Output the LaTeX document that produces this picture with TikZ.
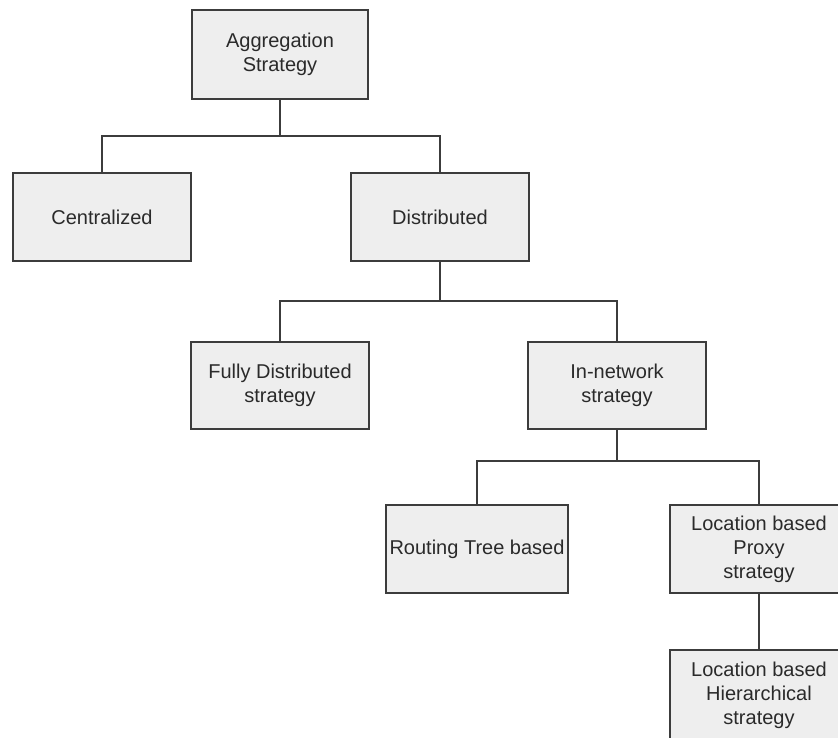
\documentclass[tikz,border=0pt]{standalone}
\usepackage{fontspec}
\setmainfont{Liberation Sans}
\definecolor{boxfill}{HTML}{EEEEEE}
\definecolor{edge}{HTML}{3C3C3C}
\definecolor{ink}{HTML}{2A2A2A}
\begin{document}
\begin{tikzpicture}[x=1pt,y=-1pt,
  box/.style={draw=edge, fill=boxfill, line width=1.8pt, rectangle,
    minimum width=178pt, minimum height=88pt, inner sep=0pt,
    align=center, text=ink, font=\fontsize{20}{24}\selectfont},
  link/.style={draw=edge, line width=1.8pt}]
\useasboundingbox (0,0) rectangle (838,738);
\clip (0,0) rectangle (838,738);
\fill[white] (0,0) rectangle (838,738);

% hierarchy of aggregation strategies
\node[box, minimum width=176pt, minimum height=89pt] (agg) at (280,54.5) {Aggregation\\Strategy};
\node[box] (cent) at (102,217) {Centralized};
\node[box] (dist) at (440,217) {Distributed};
\node[box, minimum height=87pt] (fully) at (280,385.5) {Fully Distributed\\strategy};
\node[box, minimum height=87pt] (innet) at (617,385.5) {In-network\\strategy};
\node[box, minimum width=182pt] (route) at (477,549) {Routing Tree based};
\node[box] (proxy) at (759,549) {Location based\\Proxy\\strategy};
\node[box, minimum height=90pt] (hier) at (759,695) {Location based\\Hierarchical\\strategy};

% bus levels of the tree
\coordinate (b1) at (280,136);
\coordinate (b2) at (440,301);
\coordinate (b3) at (617,461);

\draw[link] (agg.south) -- (b1);
\draw[link] (cent.north) |- (b1) -| (dist.north);
\draw[link] (dist.south) -- (b2);
\draw[link] (fully.north) |- (b2) -| (innet.north);
\draw[link] (innet.south) -- (b3);
\draw[link] (route.north) |- (b3) -| (proxy.north);
\draw[link] (proxy.south) -- (hier.north);
\end{tikzpicture}
\end{document}
